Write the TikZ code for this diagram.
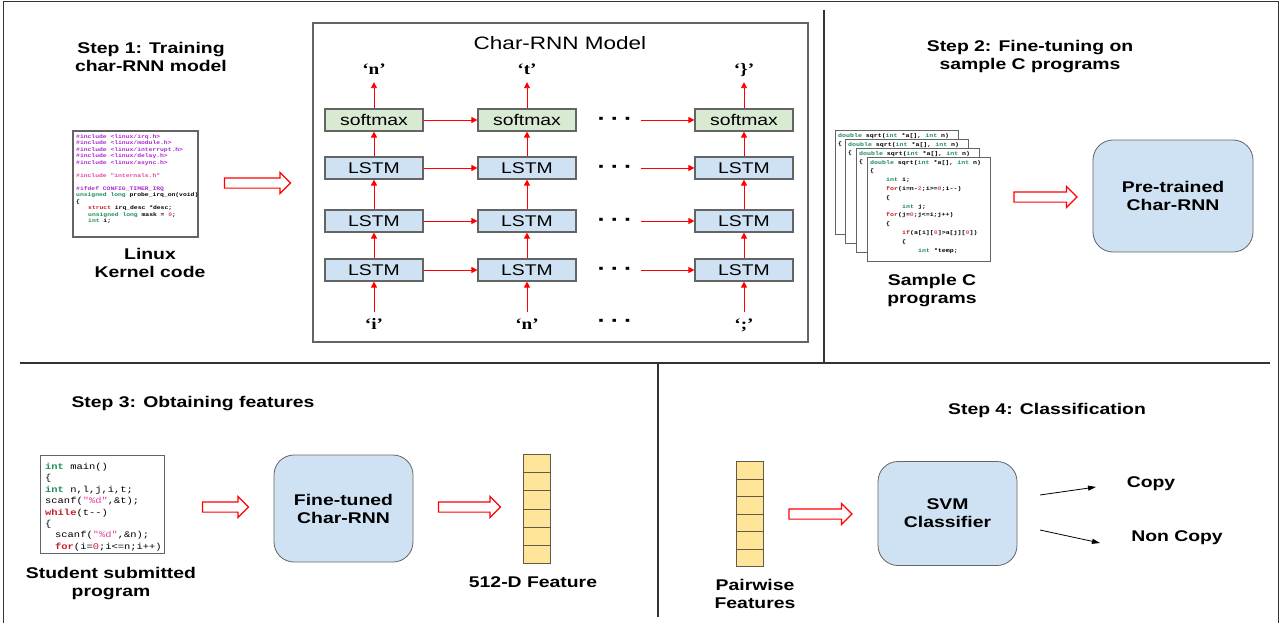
\documentclass[tikz,border=0pt]{standalone}
\usepackage{fontspec}
\setmainfont[FakeStretch=1.25]{Liberation Sans}
\setmonofont[FakeStretch=1.2]{Liberation Mono}
\newfontfamily\quotefont[FakeStretch=1.2]{Liberation Serif}
\usetikzlibrary{arrows.meta,positioning,shapes.arrows}

\definecolor{lstmblue}{RGB}{207,226,243}
\definecolor{softgreen}{RGB}{217,234,211}
\definecolor{featyellow}{RGB}{255,229,153}
\definecolor{featedge}{RGB}{100,90,70}
\definecolor{edgegray}{RGB}{100,100,100}
\definecolor{kwgreen}{RGB}{30,140,90}
\definecolor{kwred}{RGB}{200,30,40}
\definecolor{strpink}{RGB}{230,70,160}
\definecolor{incpurple}{RGB}{170,40,210}

\newcommand{\stepfont}{\bfseries\fontsize{15.5}{18}\selectfont}

\begin{document}
\begin{tikzpicture}[x=1pt, y=-1pt,
  steptitle/.style={font=\stepfont, align=center, inner sep=0pt},
  layerbox/.style={draw=edgegray, line width=1.2pt, minimum width=98pt, minimum height=22pt, inner sep=0pt, font=\fontsize{15.5}{18}\selectfont},
  lstmbox/.style={layerbox, fill=lstmblue},
  softbox/.style={layerbox, fill=softgreen},
  token/.style={font=\quotefont\bfseries\fontsize{16}{18}\selectfont, inner sep=1pt, text height=11pt, text depth=2pt},
  dotrow/.style={font=\bfseries\fontsize{20}{20}\selectfont, inner sep=0pt},
  flow/.style={draw=red, line width=0.9pt, -{Triangle[length=6pt,width=6pt]}},
  decide/.style={draw=black, line width=0.8pt, -{Triangle[length=8pt,width=5pt]}},
  hollow/.style={single arrow, draw=red, line width=1.2pt, fill=white, inner xsep=0pt, inner ysep=4.5pt, single arrow head extend=5.5pt},
  netbox/.style={draw=edgegray, line width=0.8pt, fill=lstmblue, rounded corners=20pt, align=center, font=\stepfont},
  featcell/.style={draw=featedge, line width=0.9pt, fill=featyellow, minimum width=27pt, inner sep=0pt},
  codebox/.style={draw=edgegray, line width=1pt, fill=white, inner sep=0pt, anchor=north west},
  codetext/.style={anchor=north west, align=left, inner sep=0pt},
  divider/.style={draw=black!80, line width=1.4pt}
]
\useasboundingbox (0,0) rectangle (1284,623);

% frame and the lines between the four steps
\draw[divider, line width=1pt] (3,623) -- (3,2) -- (1278,2) -- (1278,623);
\draw[divider] (20,363) -- (1270,363);
\draw[divider] (824,10) -- (824,363);
\draw[divider] (658,363) -- (658,617);

% Step 1: training on kernel code
\node[steptitle] (step1) at (151,57) {Step 1: Training\\char-RNN model};
\node[codebox, line width=1.6pt, minimum width=125pt, minimum height=106pt] (kernel) at (72,130) {};
\node[codetext, font=\ttfamily\bfseries\fontsize{5.3}{6.5}\selectfont] (kerneltxt) at ([xshift=4pt,yshift=-4pt]kernel.north west)
  {\textcolor{incpurple}{\#include <linux/irq.h>}\\
   \textcolor{incpurple}{\#include <linux/module.h>}\\
   \textcolor{incpurple}{\#include <linux/interrupt.h>}\\
   \textcolor{incpurple}{\#include <linux/delay.h>}\\
   \textcolor{incpurple}{\#include <linux/async.h>}\\
   \mbox{}\\
   \textcolor{strpink}{\#include "internals.h"}\\
   \mbox{}\\
   \textcolor{incpurple}{\#ifdef CONFIG\_TIMER\_IRQ}\\
   \textcolor{kwgreen}{unsigned long} probe\_irq\_on(void)\\
   \{\\
   \hspace*{12pt}\textcolor{kwred}{struct} irq\_desc *desc;\\
   \hspace*{12pt}\textcolor{kwgreen}{unsigned long} mask = \textcolor{strpink}{0};\\
   \hspace*{12pt}\textcolor{kwgreen}{int} i;};
\node[steptitle] (kernellbl) at (150,263) {Linux\\Kernel code};
\node[hollow, minimum height=66pt] (push1) at (255,183) {};

% Char-RNN model with three LSTM layers
\node[draw=edgegray, line width=1.3pt, minimum width=495pt, minimum height=319pt, inner sep=0pt] (model) at (560.5,182.5) {};
\node[font=\fontsize{18}{20}\selectfont] (modeltitle) at (560,43) {Char-RNN Model};
\node[token] (out1) at (374,70) {‘n’};
\node[token] (out2) at (527,70) {‘t’};
\node[token] (out3) at (744,70) {‘\}’};
\node[token] (in1) at (374,324.5) {‘i’};
\node[token] (in2) at (527,324.5) {‘n’};
\node[token] (in3) at (744,324.5) {‘;’};
\foreach \c/\x in {1/374,2/527,3/744} {
  \node[softbox] (s\c) at (\x,120) {softmax};
  \node[lstmbox] (h\c) at (\x,168) {LSTM};
  \node[lstmbox] (m\c) at (\x,221) {LSTM};
  \node[lstmbox] (b\c) at (\x,270) {LSTM};
  \draw[flow, shorten <=5pt] (in\c.north) -- (b\c.south);
  \draw[flow] (b\c.north) -- (m\c.south);
  \draw[flow] (m\c.north) -- (h\c.south);
  \draw[flow] (h\c.north) -- (s\c.south);
  \draw[flow, shorten >=4.5pt] (s\c.north) -- (out\c.south);
}
\node[dotrow] (dsoft) at (615,121) {·\hspace{5pt}·\hspace{5pt}·};
\node[dotrow] (dtop) at (615,169) {·\hspace{5pt}·\hspace{5pt}·};
\node[dotrow] (dmid) at (615,222) {·\hspace{5pt}·\hspace{5pt}·};
\node[dotrow] (dbot) at (615,271) {·\hspace{5pt}·\hspace{5pt}·};
\node[dotrow] (din) at (615,323) {·\hspace{5pt}·\hspace{5pt}·};
\foreach \r/\d in {s/dsoft,h/dtop,m/dmid,b/dbot} {
  \draw[flow] (\r1.east) -- (\r2.west);
  \draw[flow, shorten <=8pt] (\d.east |- \r3.west) -- (\r3.west);
}

% Step 2: fine-tuning on sample programs
\node[steptitle] (step2) at (1030,57) {Step 2: Fine-tuning on\\sample C programs};
\foreach \i/\px/\py in {1/835/130,2/845/139,3/856/148} {
  \node[codebox, minimum width=123pt, minimum height=104pt] (page\i) at (\px,\py) {};
  \node[codetext, font=\ttfamily\bfseries\fontsize{5.5}{8.8}\selectfont] at ([xshift=3pt,yshift=-3pt]page\i.north west)
    {\textcolor{kwgreen}{double} sqrt(\textcolor{kwgreen}{int} *a[], \textcolor{kwgreen}{int} n)\\\{};
}
\node[codebox, minimum width=123pt, minimum height=104pt] (page4) at (867,157) {};
\node[codetext, font=\ttfamily\bfseries\fontsize{5.5}{8.8}\selectfont] (pagetxt) at ([xshift=3pt,yshift=-3pt]page4.north west)
  {\textcolor{kwgreen}{double} sqrt(\textcolor{kwgreen}{int} *a[], \textcolor{kwgreen}{int} n)\\
   \{\\
   \hspace*{16pt}\textcolor{kwgreen}{int} i;\\
   \hspace*{16pt}\textcolor{kwred}{for}(i=n-\textcolor{strpink}{2};i>=\textcolor{strpink}{0};i--)\\
   \hspace*{16pt}\{\\
   \hspace*{32pt}\textcolor{kwgreen}{int} j;\\
   \hspace*{16pt}\textcolor{kwred}{for}(j=\textcolor{strpink}{0};j<=i;j++)\\
   \hspace*{16pt}\{\\
   \hspace*{32pt}\textcolor{kwred}{if}(a[i][\textcolor{strpink}{0}]>a[j][\textcolor{strpink}{0}])\\
   \hspace*{32pt}\{\\
   \hspace*{48pt}\textcolor{kwgreen}{int} *temp;};
\node[steptitle] (samplelbl) at (932,291) {Sample C\\programs};
\node[hollow, minimum height=63pt] (push2) at (1043,197) {};
\node[netbox, minimum width=160pt, minimum height=112pt] (pretrained) at (1173,196) {Pre-trained\\Char-RNN};

% Step 3: features from the fine-tuned network
\node[steptitle] (step3) at (193,404) {Step 3: Obtaining features};
\node[codebox, minimum width=124pt, minimum height=98pt] (student) at (40,455) {};
\node[codetext, font=\ttfamily\fontsize{8.7}{11.4}\selectfont] (studenttxt) at ([xshift=5pt,yshift=-8pt]student.north west)
  {\textcolor{kwgreen}{\bfseries int} main()\\
   \{\\
   \textcolor{kwgreen}{\bfseries int} n,l,j,i,t;\\
   scanf(\textcolor{strpink}{"\%d"},\&t);\\
   \textcolor{kwred}{\bfseries while}(t--)\\
   \{\\
   \hspace*{10pt}scanf(\textcolor{strpink}{"\%d"},\&n);\\
   \hspace*{10pt}\textcolor{kwred}{\bfseries for}(i=\textcolor{kwred}{0};i<=n;i++)};
\node[steptitle] (studentlbl) at (111,584) {Student submitted\\program};
\node[hollow, minimum height=46pt] (push3) at (223,507) {};
\node[netbox, minimum width=139pt, minimum height=107pt] (finetuned) at (343.5,508.5) {Fine-tuned\\Char-RNN};
\node[hollow, minimum height=62pt] (push4) at (467,507) {};
\foreach \k in {0,...,5}
  \node[featcell, minimum height=18.2pt, anchor=north] (feat\k) at (536.5,{454+18.2*\k}) {};
\node[steptitle] (featlbl) at (533,582) {512-D Feature};

% Step 4: classification of feature pairs
\node[steptitle] (step4) at (1047,410) {Step 4: Classification};
\foreach \k in {0,...,5}
  \node[featcell, minimum height=17.5pt, anchor=north] (pair\k) at (749.5,{461+17.5*\k}) {};
\node[steptitle] (pairlbl) at (755,594) {Pairwise\\Features};
\node[hollow, minimum height=63pt] (push5) at (818,514) {};
\node[netbox, minimum width=139pt, minimum height=104pt] (svm) at (947.5,513.5) {SVM\\Classifier};
\node[steptitle] (copy) at (1151,484) {Copy};
\node[steptitle] (noncopy) at (1177,538) {Non Copy};
\coordinate (copyfrom) at (1040,495);
\coordinate (copyto) at (1096,487);
\coordinate (noncopyfrom) at (1040,530);
\coordinate (noncopyto) at (1100,543);
\draw[decide] (copyfrom) -- (copyto);
\draw[decide] (noncopyfrom) -- (noncopyto);
\end{tikzpicture}
\end{document}
